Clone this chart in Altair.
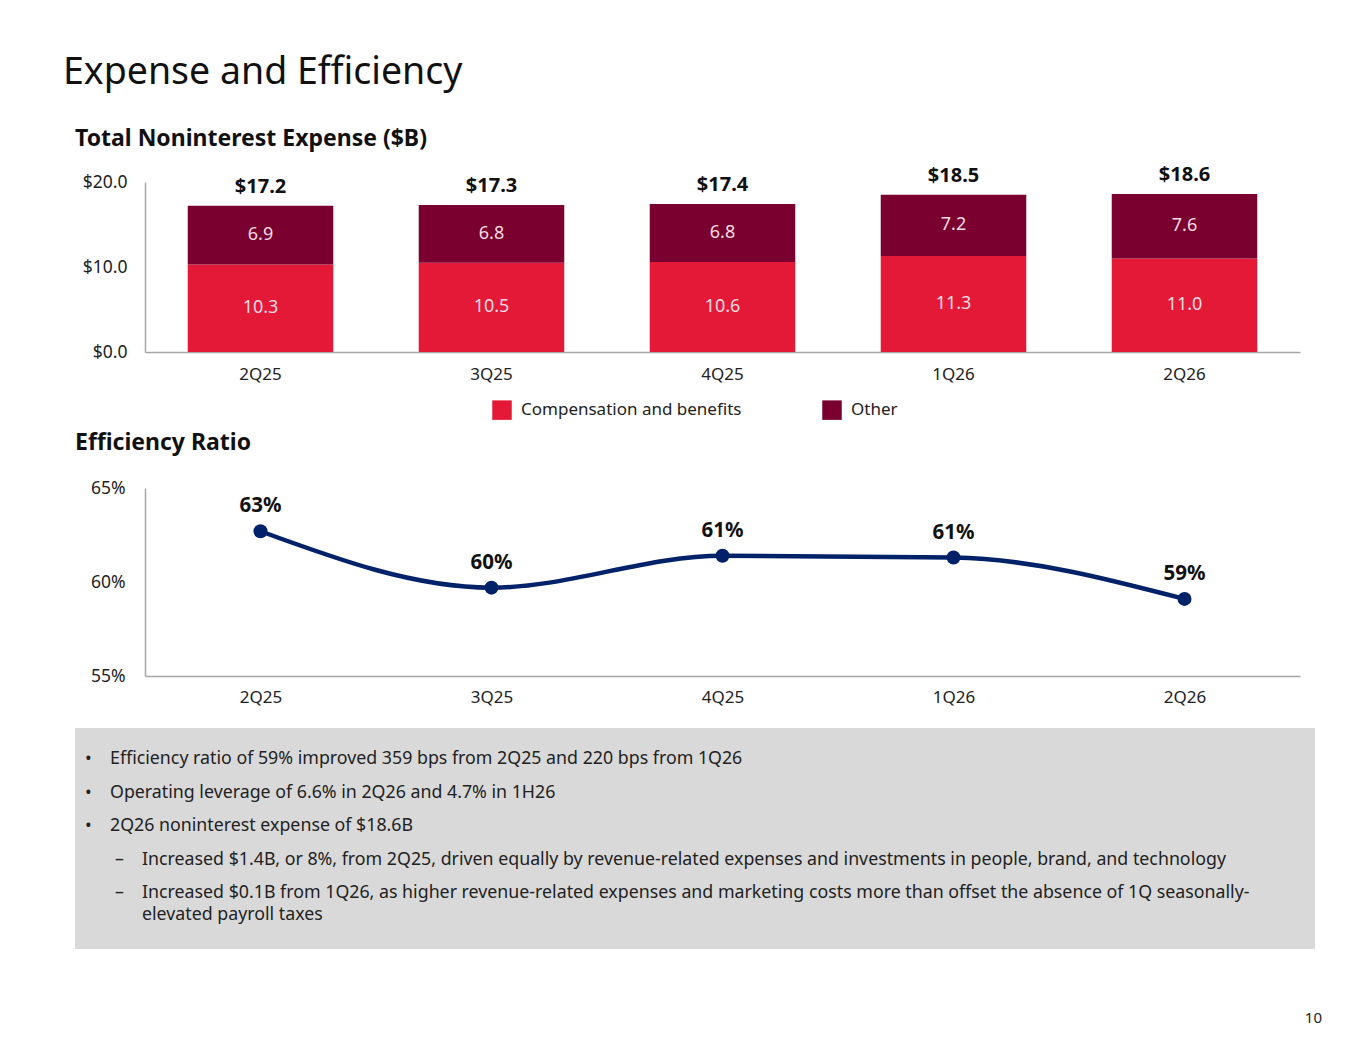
import altair as alt
import pandas as pd

# ---------------- data ----------------
quarters = ["2Q25", "3Q25", "4Q25", "1Q26", "2Q26"]
comp = [10.3, 10.5, 10.6, 11.3, 11.0]
other = [6.9, 6.8, 6.8, 7.2, 7.6]
totals = [17.2, 17.3, 17.4, 18.5, 18.6]
series_names = ["Compensation and benefits", "Other"]
ratio = [62.7, 59.7, 61.4, 61.3, 59.1]

bullet_items = [
    ["Efficiency ratio of 59% improved 359 bps from 2Q25 and 220 bps from 1Q26"],
    ["Operating leverage of 6.6% in 2Q26 and 4.7% in 1H26"],
    ["2Q26 noninterest expense of $18.6B"],
    ["Increased $1.4B, or 8%, from 2Q25, driven equally by revenue-related expenses and investments in people, brand, and technology"],
    ["Increased $0.1B from 1Q26, as higher revenue-related expenses and marketing costs more than offset the absence of 1Q seasonally-",
     "elevated payroll taxes"],
]
bullet_levels = [0, 0, 0, 1, 1]
page_number = ["10"]

# ---------------- style ----------------
RED = "#E31937"
MAROON = "#79002F"
NAVY = "#012169"
GREY_BOX = "#D9D9D9"
AXIS_GREY = "#A6A6A6"
TXT = "#222222"
FONT = "Noto Sans"
LEFT = 70          # room for the y-axis labels inside each panel
PANEL_W = 1225     # panel width incl. the label strip
BOX_W = 1240

# ---------------- bar chart ----------------
bar_df = pd.DataFrame({
    "q": quarters * 2,
    "series": [series_names[0]] * len(quarters) + [series_names[1]] * len(quarters),
    "value": comp + other,
    "order": [0] * len(quarters) + [1] * len(quarters),
})
tot_df = pd.DataFrame({"q": quarters, "total": totals})

xscale_b = alt.Scale(range=[LEFT, PANEL_W], paddingInner=0.37, paddingOuter=0.185)
xb = alt.X("q:N", sort=quarters, scale=xscale_b,
           axis=alt.Axis(title=None, labelAngle=0, labelPadding=14, ticks=False,
                         domainColor=AXIS_GREY, domainWidth=1.5, labelFontSize=17,
                         labelColor=TXT, labelFont=FONT))
yscale_b = alt.Scale(domain=[0, 20])
yaxis_b = alt.Axis(title=None, values=[0, 10, 20], format="$.1f", grid=False, ticks=False,
                   domainColor=AXIS_GREY, domainWidth=1.5, labelPadding=18, labelFontSize=17.5,
                   labelColor=TXT, labelFont=FONT, offset=-LEFT)

base = alt.Chart(bar_df).transform_stack(
    stack="value", groupby=["q"], as_=["v0", "v1"], sort=[alt.SortField("order")]
).transform_calculate(mid="(datum.v0 + datum.v1) / 2")

bars = base.mark_bar().encode(
    x=xb,
    y=alt.Y("v0:Q", scale=yscale_b, axis=yaxis_b),
    y2="v1:Q",
    color=alt.Color("series:N",
                    scale=alt.Scale(domain=series_names, range=[RED, MAROON]),
                    legend=alt.Legend(title=None, orient="none", legendX=417, legendY=218,
                                      direction="horizontal", symbolType="square",
                                      symbolSize=380, symbolStrokeWidth=0, symbolOpacity=1,
                                      labelFontSize=17, labelFont=FONT, labelColor=TXT,
                                      labelOffset=9, columnPadding=80, labelLimit=400,
                                      padding=0)),
)
seg_text = base.mark_text(color="#F8DCE3", fontSize=18, font=FONT).encode(
    x=alt.X("q:N", sort=quarters, scale=xscale_b),
    y=alt.Y("mid:Q"),
    text=alt.Text("value:Q", format=".1f"),
)
tot_text = alt.Chart(tot_df).mark_text(fontSize=20, fontWeight="bold", font=FONT,
                                       color="#111111", dy=-19).encode(
    x=alt.X("q:N", sort=quarters, scale=xscale_b),
    y=alt.Y("total:Q"),
    text=alt.Text("total:Q", format="$.1f"),
)
bar_chart = alt.layer(bars, seg_text, tot_text).properties(
    width=PANEL_W, height=170,
    title=alt.TitleParams("Total Noninterest Expense ($B)", anchor="start", fontSize=23,
                          fontWeight="bold", font=FONT, color="#111111", offset=14,
                          frame="group"),
).resolve_scale(color="independent")

# ---------------- line chart ----------------
line_df = pd.DataFrame({"q": quarters, "ratio": ratio})
xl = alt.X("q:N", sort=quarters,
           scale=alt.Scale(type="point", range=[LEFT, PANEL_W], padding=0.5),
           axis=alt.Axis(title=None, labelAngle=0, labelPadding=13, ticks=False,
                         domainColor=AXIS_GREY, domainWidth=1.5, labelFontSize=17,
                         labelColor=TXT, labelFont=FONT, minExtent=40))
yl = alt.Y("ratio:Q", scale=alt.Scale(domain=[55, 65]),
           axis=alt.Axis(title=None, values=[55, 60, 65], labelExpr="datum.value + '%'",
                         grid=False, ticks=False, domainColor=AXIS_GREY, domainWidth=1.5,
                         labelPadding=20, labelFontSize=17.5, labelColor=TXT, labelFont=FONT,
                         offset=-LEFT))
lbase = alt.Chart(line_df).transform_calculate(
    lab="format(datum.ratio, '.0f') + '%'")
line = lbase.mark_line(color=NAVY, strokeWidth=4.5, interpolate="monotone").encode(x=xl, y=yl)
pts = lbase.mark_circle(color=NAVY, size=196, opacity=1).encode(x=xl, y=yl)
plab = lbase.mark_text(fontSize=20.5, fontWeight="bold", font=FONT, color="#111111", dy=-25).encode(
    x=xl, y=yl, text="lab:N")
line_chart = alt.layer(line, pts, plab).properties(
    width=PANEL_W, height=188,
    title=alt.TitleParams("Efficiency Ratio", anchor="start", fontSize=23, fontWeight="bold",
                          font=FONT, color="#111111", offset=24, frame="group"),
)

# ---------------- text box ----------------
rows = []
y = 31
for i, (item, lvl) in enumerate(zip(bullet_items, bullet_levels)):
    if i > 0:
        y += 33.5
    mx, tx = (10, 35) if lvl == 0 else (40, 67)
    rows.append({"px": mx, "py": y, "t": "•" if lvl == 0 else "–"})
    for j, ln in enumerate(item):
        if j > 0:
            y += 22
        rows.append({"px": tx, "py": y, "t": ln})
txt_df = pd.DataFrame(rows)

box_text = alt.Chart(txt_df).mark_text(align="left", baseline="middle", fontSize=17.8,
                                       font=FONT, color=TXT).encode(
    x=alt.X("px:Q", scale=None), y=alt.Y("py:Q", scale=None), text="t:N")
pg = alt.Chart(pd.DataFrame({"p": page_number})).mark_text(
    align="right", baseline="middle", fontSize=15, font=FONT, color=TXT).encode(
    x=alt.value(1247), y=alt.value(290), text="p:N")
text_panel = alt.layer(box_text, pg).properties(
    width=BOX_W, height=221, view=alt.ViewBackground(fill=GREY_BOX, strokeWidth=0))

# ---------------- assemble ----------------
chart = alt.vconcat(bar_chart, line_chart, text_panel, spacing=12).properties(
    padding={"left": 55, "top": 46, "right": 10, "bottom": 10},
    background="white",
    title=alt.TitleParams("Expense and Efficiency", anchor="start", fontSize=37.5,
                          fontWeight="normal", font=FONT, color="#111111", dx=-12, offset=36),
).configure_view(strokeWidth=0)

chart.save("out.html", embed_options={"renderer": "svg", "actions": False})
